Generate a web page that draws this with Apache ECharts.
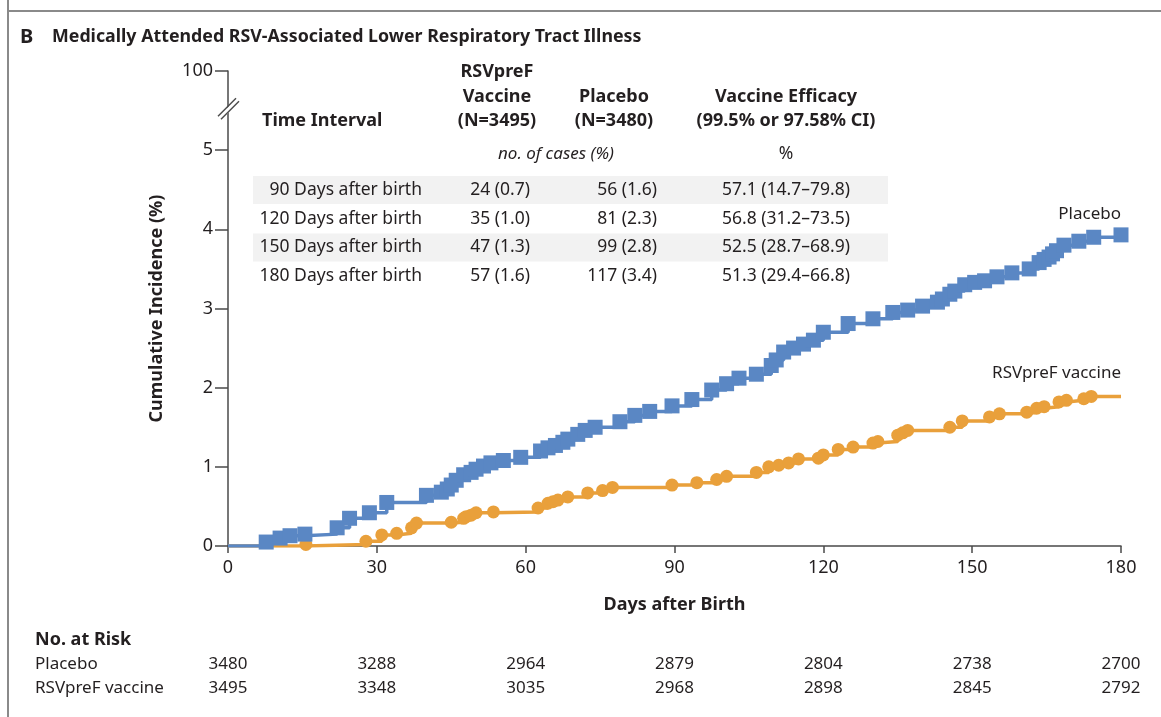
<!DOCTYPE html>
<html>
<head>
<meta charset="utf-8">
<script src="https://cdn.jsdelivr.net/npm/echarts@6.0.0/dist/echarts.min.js"></script>
<style>
html,body{margin:0;padding:0;background:#fff;}
#chart{width:1161px;height:717px;}
</style>
</head>
<body>
<div id="chart"></div>
<script>
// ---------- DATA ----------
const xTicks = [0, 30, 60, 90, 120, 150, 180];
const riskPlacebo = [3480, 3288, 2964, 2879, 2804, 2738, 2700];
const riskVaccine = [3495, 3348, 3035, 2968, 2898, 2845, 2792];

const placeboDays = [0, 7.7, 10.5, 12.5, 15.5, 22, 24.5, 28.5, 32, 40, 43, 44.2, 45, 46, 47.5, 49, 50, 51.5, 53, 55.5, 59, 63, 64.5, 66, 67.5, 68.5, 70.5, 72, 74, 79, 82, 85, 89.5, 93.5, 97.5, 100.5, 103, 106.5, 109.5, 110.5, 112, 114, 116, 118, 120, 125, 130, 134, 137, 140, 143, 144, 145.5, 146.5, 148.5, 150.5, 152.5, 155, 158, 161.5, 163.5, 164.5, 165.5, 166.2, 167, 168.5, 171.5, 174.5, 180];
const placeboCum  = [0, 0.05, 0.10, 0.13, 0.15, 0.23, 0.35, 0.42, 0.55, 0.64, 0.68, 0.72, 0.77, 0.83, 0.90, 0.93, 0.97, 1.01, 1.05, 1.08, 1.12, 1.20, 1.24, 1.27, 1.31, 1.35, 1.41, 1.46, 1.50, 1.57, 1.65, 1.70, 1.77, 1.85, 1.97, 2.05, 2.12, 2.17, 2.28, 2.35, 2.45, 2.50, 2.55, 2.60, 2.70, 2.81, 2.87, 2.95, 2.98, 3.03, 3.08, 3.12, 3.18, 3.22, 3.30, 3.33, 3.35, 3.40, 3.45, 3.50, 3.58, 3.62, 3.65, 3.69, 3.73, 3.80, 3.85, 3.90, 3.93];

const vaccineDays = [0, 15.7, 27.8, 31, 34, 37, 38, 45, 47.5, 48, 49, 50, 53.5, 62.5, 64.5, 65.5, 66.5, 68.5, 72.5, 75.5, 77.5, 89.5, 94.5, 98.5, 100.5, 106.5, 109, 111, 113, 115, 119, 120, 123, 126, 130, 131, 135, 136, 137, 145.5, 148, 153.5, 155.5, 161, 163, 164.5, 167.5, 169, 172.5, 174, 180];
const vaccineCum  = [0, 0.02, 0.06, 0.14, 0.16, 0.23, 0.29, 0.30, 0.35, 0.37, 0.39, 0.42, 0.43, 0.48, 0.54, 0.56, 0.58, 0.62, 0.67, 0.70, 0.74, 0.77, 0.80, 0.84, 0.88, 0.93, 1.00, 1.02, 1.05, 1.10, 1.11, 1.15, 1.22, 1.25, 1.30, 1.32, 1.40, 1.43, 1.46, 1.50, 1.58, 1.63, 1.67, 1.69, 1.74, 1.76, 1.82, 1.84, 1.86, 1.89, 1.89];

const tableIntervals = ['90 Days after birth', '120 Days after birth', '150 Days after birth', '180 Days after birth'];
const tableVaccine = ['24 (0.7)', '35 (1.0)', '47 (1.3)', '57 (1.6)'];
const tablePlacebo = ['56 (1.6)', '81 (2.3)', '99 (2.8)', '117 (3.4)'];
const tableEfficacy = ['57.1 (14.7\u201379.8)', '56.8 (31.2\u201373.5)', '52.5 (28.7\u201368.9)', '51.3 (29.4\u201366.8)'];

// ---------- STYLE ----------
const FONT = '"Noto Sans", sans-serif';
const TXT = '#231f20';
const BLUE = '#5a87c4';
const ORANGE = '#e9a03b';
const AX = '#4a4a4a';

const chart = echarts.init(document.getElementById('chart'), null, {renderer: 'canvas'});

function buildData(days, cum, lastSymbol) {
  return days.map((d, i) => {
    const item = {value: [d, cum[i]]};
    if (i === 0) item.symbol = 'none';
    if (i === days.length - 1 && !lastSymbol) item.symbol = 'none';
    return item;
  });
}

const curveLabel = (days, cum, text, dist) => ({
  symbol: 'circle', symbolSize: 0, silent: true,
  data: [{coord: [days[days.length - 1], cum[cum.length - 1]]}],
  label: {show: true, formatter: text, position: 'top', align: 'right', distance: dist,
    fontFamily: FONT, fontSize: 17, color: TXT}
});

const riskAxis = (arr, offset) => ({
  type: 'value', min: 0, max: 180, interval: 30, position: 'bottom', offset: offset,
  axisLine: {show: false}, axisTick: {show: false}, splitLine: {show: false},
  axisLabel: {margin: 0, verticalAlign: 'middle', fontFamily: FONT, fontSize: 17, color: TXT,
    formatter: v => String(arr[xTicks.indexOf(v)])}
});

const tableGraphics = [];
[0, 2].forEach(r => {
  tableGraphics.push({type: 'rect', shape: {x: 253, y: 176 + r * 28.7, width: 635, height: 28}, style: {fill: '#f2f2f2'}, z: -10});
});
const T = (text, x, y, align, weight, style, size) => ({
  type: 'text', x: x, y: y, z: 10,
  style: {text: text, textAlign: align, textVerticalAlign: 'middle', fill: TXT,
    font: (style || 'normal') + ' ' + (weight || 'normal') + ' ' + (size || 17.5) + 'px ' + FONT}
});
tableGraphics.push(T('RSVpreF', 497, 72, 'center', 'bold', null, 18));
tableGraphics.push(T('Vaccine', 497, 97, 'center', 'bold', null, 18));
tableGraphics.push(T('(N=3495)', 497, 121, 'center', 'bold', null, 18));
tableGraphics.push(T('Placebo', 614, 97, 'center', 'bold', null, 18));
tableGraphics.push(T('(N=3480)', 614, 121, 'center', 'bold', null, 18));
tableGraphics.push(T('Vaccine Efficacy', 786, 97, 'center', 'bold', null, 18));
tableGraphics.push(T('(99.5% or 97.58% CI)', 786, 121, 'center', 'bold', null, 18));
tableGraphics.push(T('Time Interval', 262, 121, 'left', 'bold', null, 18));
tableGraphics.push(T('no. of cases (%)', 556, 154, 'center', 'normal', 'italic', 17));
tableGraphics.push(T('%', 786, 154, 'center'));
tableIntervals.forEach((s, i) => {
  const y = 190 + i * 28.7;
  tableGraphics.push(T(s, 422, y, 'right'));
  tableGraphics.push(T(tableVaccine[i], 530, y, 'right'));
  tableGraphics.push(T(tablePlacebo[i], 657, y, 'right'));
  tableGraphics.push(T(tableEfficacy[i], 786, y, 'center'));
});

const frameGraphics = [
  {type: 'line', shape: {x1: 8, y1: 0, x2: 8, y2: 717}, style: {stroke: '#8a8a8a', lineWidth: 2}},
  {type: 'line', shape: {x1: 8, y1: 11, x2: 1161, y2: 11}, style: {stroke: '#8a8a8a', lineWidth: 2}},
  {type: 'text', x: 20, y: 37, style: {text: 'B', font: 'bold 20px ' + FONT, fill: TXT, textVerticalAlign: 'middle'}},
  {type: 'text', x: 52, y: 37, style: {text: 'Medically Attended RSV-Associated Lower Respiratory Tract Illness', font: 'bold 17.8px ' + FONT, fill: TXT, textVerticalAlign: 'middle'}},
  {type: 'text', x: 35, y: 640, style: {text: 'No. at Risk', font: 'bold 18px ' + FONT, fill: TXT, textVerticalAlign: 'middle'}},
  {type: 'text', x: 35, y: 664, style: {text: 'Placebo', font: '17px ' + FONT, fill: TXT, textVerticalAlign: 'middle'}},
  {type: 'text', x: 35, y: 688, style: {text: 'RSVpreF vaccine', font: '17px ' + FONT, fill: TXT, textVerticalAlign: 'middle'}}
];

const option = {
  backgroundColor: '#fff',
  animation: false,
  grid: {left: 228, right: 40, top: 71, bottom: 171, containLabel: false},
  xAxis: [
    {
      type: 'value', min: 0, max: 180, interval: 30,
      axisLine: {lineStyle: {color: AX, width: 1.5}},
      axisTick: {length: 7, lineStyle: {color: AX, width: 1.5}},
      axisLabel: {margin: 13, fontFamily: FONT, fontSize: 18, color: TXT},
      splitLine: {show: false},
      name: 'Days after Birth', nameLocation: 'middle', nameGap: 50,
      nameTextStyle: {fontFamily: FONT, fontSize: 18, fontWeight: 'bold', color: TXT}
    },
    riskAxis(riskPlacebo, 118),
    riskAxis(riskVaccine, 142)
  ],
  yAxis: {
    type: 'value', min: 0, max: 6, interval: 1,
    axisLine: {show: true, lineStyle: {color: AX, width: 1.5}},
    axisTick: {show: true, length: 13, lineStyle: {color: AX, width: 1.5}},
    axisLabel: {margin: 15, fontFamily: FONT, fontSize: 18, color: TXT, formatter: v => v === 6 ? '100' : String(v)},
    splitLine: {show: false},
    name: 'Cumulative Incidence (%)', nameLocation: 'middle', nameGap: 62,
    nameTextStyle: {fontFamily: FONT, fontSize: 18, fontWeight: 'bold', color: TXT}
  },
  series: [
    {
      name: 'RSVpreF vaccine', type: 'line', step: 'end',
      data: buildData(vaccineDays, vaccineCum, false),
      symbol: 'circle', symbolSize: 13,
      lineStyle: {color: ORANGE, width: 3.5}, itemStyle: {color: ORANGE},
      markPoint: curveLabel(vaccineDays, vaccineCum, 'RSVpreF vaccine', 15),
      z: 2
    },
    {
      name: 'Placebo', type: 'line', step: 'end',
      data: buildData(placeboDays, placeboCum, true),
      symbol: 'rect', symbolSize: 15,
      lineStyle: {color: BLUE, width: 3.5}, itemStyle: {color: BLUE},
      markPoint: curveLabel(placeboDays, placeboCum, 'Placebo', 12),
      z: 3
    }
  ],
  graphic: frameGraphics.concat(tableGraphics)
};
chart.setOption(option);

// axis-break marks positioned through the y scale
const p = chart.convertToPixel({xAxisIndex: 0, yAxisIndex: 0}, [0, 5.53]);
chart.setOption({
  graphic: frameGraphics.concat(tableGraphics).concat([
    {type: 'polygon', shape: {points: [[p[0]-9, p[1]+8], [p[0]+8, p[1]-9], [p[0]+11, p[1]-6], [p[0]-6, p[1]+11]]}, style: {fill: '#fff'}, z: 20},
    {type: 'line', shape: {x1: p[0]-10, y1: p[1]+8, x2: p[0]+8, y2: p[1]-10}, style: {stroke: AX, lineWidth: 1.5}, z: 21},
    {type: 'line', shape: {x1: p[0]-7, y1: p[1]+11, x2: p[0]+11, y2: p[1]-7}, style: {stroke: AX, lineWidth: 1.5}, z: 21}
  ])
});
</script>
</body>
</html>
